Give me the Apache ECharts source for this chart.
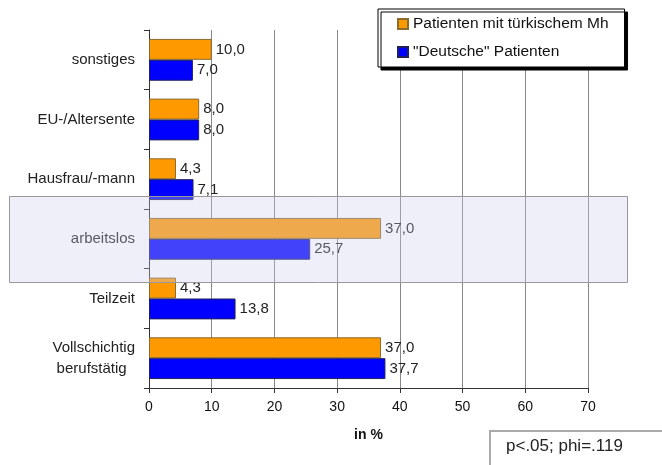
<!DOCTYPE html>
<html>
<head>
<meta charset="utf-8">
<script src="https://cdn.jsdelivr.net/npm/echarts@6/dist/echarts.min.js"></script>
<style>
html,body{margin:0;padding:0;background:#fff;}
#chart{width:662px;height:465px;}
</style>
</head>
<body>
<div id="chart"></div>
<script>
const categories = ['sonstiges', 'EU-/Altersente', 'Hausfrau/-mann', 'arbeitslos', 'Teilzeit', 'Vollschichtig\nberufstätig  '];
const seriesNames = ['Patienten mit türkischem Mh', '"Deutsche" Patienten'];
const turkValues = [10.0, 8.0, 4.3, 37.0, 4.3, 37.0];
const deutschValues = [7.0, 8.0, 7.1, 25.7, 13.8, 37.7];
const xTicks = [0, 10, 20, 30, 40, 50, 60, 70];
const statText = 'p<.05; phi=.119';
const axisTitle = 'in %';

const chart = echarts.init(document.getElementById('chart'), null, {renderer: 'canvas'});
const fmt = v => v.toFixed(1).replace('.', ',');
const font = 'Liberation Sans, Arial, sans-serif';

function mkSeries(name, data, color, border) {
  return {
    name: name,
    type: 'bar',
    data: data,
    barGap: '0%',
    barCategoryGap: '30%',
    itemStyle: {color: color, borderColor: border, borderWidth: 1},
    label: {
      show: true, position: 'right', distance: 4,
      formatter: p => fmt(p.value),
      color: '#222', fontFamily: font, fontSize: 15
    }
  };
}

chart.setOption({
  animation: false,
  backgroundColor: '#fff',
  textStyle: {fontFamily: font},
  grid: {left: 149, right: 74, top: 30, bottom: 77, containLabel: false},
  legend: {
    orient: 'vertical',
    left: 378, top: 9,
    padding: [7, 16, 7, 19],
    itemGap: 12,
    itemWidth: 10, itemHeight: 10,
    icon: 'rect',
    backgroundColor: '#fff',
    borderColor: '#000', borderWidth: 1,
    shadowColor: '#000', shadowBlur: 0, shadowOffsetX: 3, shadowOffsetY: 3,
    textStyle: {fontSize: 15.5, color: '#111', fontFamily: font},
    data: seriesNames
  },
  xAxis: {
    type: 'value',
    min: xTicks[0], max: xTicks[xTicks.length - 1], interval: 10,
    name: axisTitle, nameLocation: 'middle', nameGap: 40,
    nameTextStyle: {fontWeight: 'bold', fontSize: 14, color: '#111', fontFamily: font},
    axisLine: {show: true, lineStyle: {color: '#333'}},
    axisTick: {show: true, length: 5, lineStyle: {color: '#333'}},
    axisLabel: {fontSize: 14, color: '#111', margin: 12, fontFamily: font},
    splitLine: {show: true, lineStyle: {color: '#888', width: 1}}
  },
  yAxis: {
    type: 'category',
    data: categories,
    inverse: true,
    axisLine: {show: true, lineStyle: {color: '#333'}},
    axisTick: {show: true, length: 5, lineStyle: {color: '#333'}},
    axisLabel: {fontSize: 15, color: '#222', margin: 14, fontFamily: font, lineHeight: 21}
  },
  series: [
    mkSeries(seriesNames[0], turkValues, '#FF9900', '#8a6a30'),
    mkSeries(seriesNames[1], deutschValues, '#0000FF', '#20205a')
  ],
  graphic: [
    {
      type: 'rect', z: 100,
      shape: {x: 9.5, y: 196.5, width: 618, height: 86},
      style: {fill: 'rgba(205,205,240,0.32)', stroke: '#999', lineWidth: 1}
    },
    {
      type: 'rect', z: 100,
      shape: {x: 490, y: 431, width: 180, height: 40},
      style: {fill: '#fff', stroke: '#aaa', lineWidth: 2}
    },
    {
      type: 'text', z: 101,
      left: 506, top: 438,
      style: {text: statText, fontSize: 17, fill: '#222', fontFamily: font}
    }
  ]
});
</script>
</body>
</html>
